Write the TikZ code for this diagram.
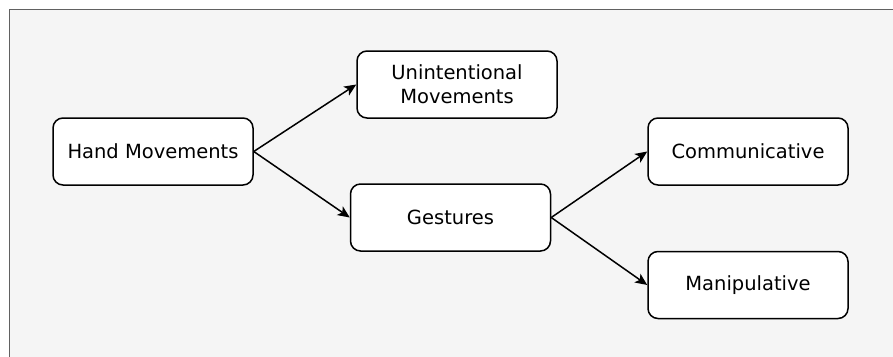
\documentclass[tikz,border=0pt]{standalone}
\usepackage{fontspec}
\setmainfont{DejaVu Sans}
\usetikzlibrary{arrows.meta}

\begin{document}
\begin{tikzpicture}[x=1pt,y=-1pt,>={Stealth[length=12pt,width=10.5pt,inset=3pt]},
    box/.style={draw=black,fill=white,line width=1.5pt,rounded corners=10pt,
        minimum width=200pt,minimum height=67pt,align=center,
        font=\fontsize{19.5}{24}\selectfont},
    link/.style={->,line width=1.5pt}]
    % Page and grey panel
    \useasboundingbox (0,0) rectangle (893,356);
    \draw[draw=black!62,fill=black!4,line width=1.8pt] (9.5,9.5) rectangle (910,380);

    % Boxes
    \node[box] (hand) at (153,151.5) {Hand Movements};
    \node[box] (unint) at (457,84.5) {Unintentional\\Movements};
    \node[box] (gest) at (450.5,217.5) {Gestures};
    \node[box] (comm) at (748,151.5) {Communicative};
    \node[box] (manip) at (748,285) {Manipulative};

    % Arrows
    \draw[link] (hand.east) -- (unint.west);
    \draw[link] (hand.east) -- (gest.west);
    \draw[link] (gest.east) -- (comm.west);
    \draw[link] (gest.east) -- (manip.west);
\end{tikzpicture}
\end{document}
